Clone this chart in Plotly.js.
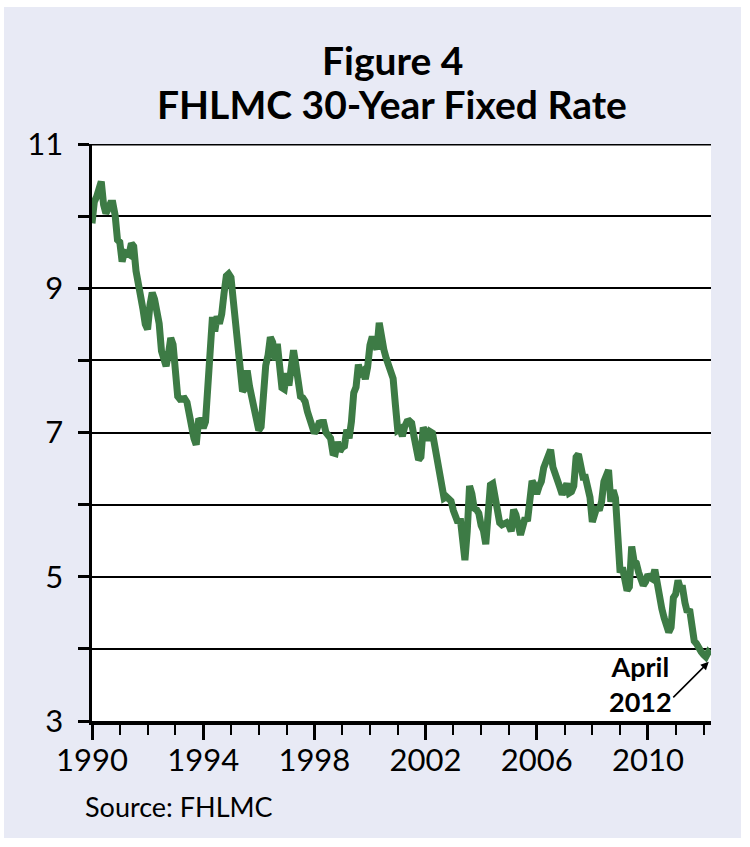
<!DOCTYPE html>
<html>
<head>
<meta charset="utf-8">
<script src="https://cdn.plot.ly/plotly-3.0.1.min.js"></script>
<style>
  html, body { margin: 0; padding: 0; background: #ffffff; }
  #chart { position: absolute; left: 4px; top: 7px; width: 737px; height: 831px; }
</style>
</head>
<body>
<div id="chart"></div>
<script>
// FHLMC 30-year fixed rate, monthly averages (%), Jan 1990 - Apr 2012
const startYear = 1990;
const rates1990s = [
  9.90, 10.20, 10.27, 10.37, 10.48, 10.16, 10.04, 10.10, 10.18, 10.18, 10.01, 9.67,
  9.64, 9.37, 9.50, 9.49, 9.47, 9.62, 9.58, 9.24, 9.01, 8.86, 8.71, 8.50,
  8.43, 8.76, 8.94, 8.85, 8.67, 8.51, 8.13, 7.98, 7.92, 8.09, 8.31, 8.22,
  7.92, 7.50, 7.46, 7.46, 7.47, 7.42, 7.21, 7.11, 6.92, 6.83, 7.16, 7.17,
  7.06, 7.15, 7.68, 8.32, 8.60, 8.40, 8.61, 8.51, 8.64, 8.93, 9.17, 9.20,
  9.15, 8.83, 8.46, 8.32, 7.96, 7.57, 7.61, 7.86, 7.64, 7.48, 7.38, 7.20,
  7.03, 7.08, 7.62, 7.93, 8.07, 8.32, 8.25, 8.00, 8.23, 7.92, 7.62, 7.60,
  7.82, 7.65, 7.90, 8.14, 7.94, 7.69, 7.50, 7.48, 7.43, 7.29, 7.21, 7.10,
  6.99, 7.04, 7.13, 7.14, 7.14, 7.00, 6.95, 6.92, 6.72, 6.71, 6.87, 6.74,
  6.79, 6.81, 7.04, 6.92, 7.15, 7.55, 7.63, 7.94, 7.82, 7.85, 7.74, 7.91
];
const rates2000s = [
  8.21, 8.33, 8.24, 8.15, 8.52, 8.29, 8.15, 8.03, 7.91, 7.80, 7.75, 7.38,
  7.03, 7.05, 6.95, 7.08, 7.15, 7.16, 7.13, 6.95, 6.82, 6.62, 6.66, 7.07,
  7.00, 6.89, 7.01, 6.99, 6.81, 6.65, 6.49, 6.29, 6.09, 6.11, 6.07, 6.05,
  5.92, 5.84, 5.75, 5.81, 5.48, 5.23, 5.63, 6.26, 6.15, 5.95, 5.93, 5.88,
  5.71, 5.64, 5.45, 5.83, 6.27, 6.29, 6.06, 5.87, 5.75, 5.72, 5.73, 5.75,
  5.71, 5.63, 5.93, 5.86, 5.72, 5.58, 5.70, 5.82, 5.77, 6.07, 6.33, 6.27,
  6.15, 6.25, 6.32, 6.51, 6.60, 6.68, 6.76, 6.52, 6.40, 6.36, 6.24, 6.14,
  6.22, 6.29, 6.16, 6.18, 6.26, 6.66, 6.70, 6.57, 6.38, 6.38, 6.21, 6.10,
  5.76, 5.92, 5.97, 5.92, 6.04, 6.32, 6.43, 6.48, 6.04, 6.20, 6.09, 5.29,
  5.06, 5.13, 5.00, 4.81, 4.86, 5.42, 5.22, 5.19, 5.06, 4.95, 4.88, 4.93
];
const rates2010s = [
  5.03, 4.99, 4.97, 5.10, 4.89, 4.74, 4.56, 4.43, 4.35, 4.23, 4.30, 4.71,
  4.76, 4.95, 4.84, 4.84, 4.64, 4.51, 4.55, 4.27, 4.11, 4.07, 3.99, 3.96,
  3.92, 3.89, 3.95, 3.91
];
const yTickVals = [3, 4, 5, 6, 7, 8, 9, 10, 11];
const yTickText = ['3', '', '5', '', '7', '', '9', '', '11'];
const xRange = [1990, 2012.27];
const titleLines = ['Figure 4', 'FHLMC 30-Year Fixed Rate'];
const sourceText = 'Source: FHLMC';
const calloutText = 'April<br>2012';

const rates = rates1990s.concat(rates2000s, rates2010s);
const xs = rates.map((_, i) => startYear + i / 12);

const trace = {
  x: xs, y: rates, type: 'scatter', mode: 'lines',
  line: { color: '#3d7b45', width: 7, shape: 'linear' },
  hoverinfo: 'skip'
};

const tickFont = { family: 'Lato, "Open Sans", sans-serif', size: 31, color: '#000' };
const titleFont = { family: 'Lato, "Open Sans", sans-serif', size: 39, color: '#000' };

const layout = {
  width: 737, height: 831,
  paper_bgcolor: '#e8eaf5',
  plot_bgcolor: '#ffffff',
  margin: { l: 88, r: 30, t: 137, b: 117 },
  showlegend: false,
  xaxis: {
    range: xRange, tick0: 1990, dtick: 4, tickmode: 'linear',
    ticks: 'outside', ticklen: 15, tickwidth: 3, tickcolor: '#000',
    showline: true, linewidth: 3.5, linecolor: '#000',
    showgrid: false, zeroline: false,
    tickfont: tickFont, ticklabelstandoff: -6,
    minor: { dtick: 1, tick0: 1990, ticks: 'outside', ticklen: 10, tickwidth: 2, tickcolor: '#000', showgrid: false }
  },
  yaxis: {
    range: [3, 11], tickmode: 'array', tickvals: yTickVals, ticktext: yTickText,
    ticks: 'outside', ticklen: 11, tickwidth: 3, tickcolor: '#000',
    showline: true, linewidth: 3.5, linecolor: '#000',
    showgrid: true, gridcolor: '#000', gridwidth: 2, zeroline: false,
    tickfont: tickFont, ticklabelstandoff: 8
  },
  shapes: [
    { type: 'line', xref: 'paper', yref: 'y', x0: 0, x1: 1, y0: 11, y1: 11, line: { color: '#000', width: 3 } }
  ],
  annotations: [
    { xref: 'paper', yref: 'paper', x: 0.4847, y: 1.1455, xanchor: 'center', yanchor: 'middle',
      text: '<b>' + titleLines[0] + '</b>', showarrow: false, font: titleFont },
    { xref: 'paper', yref: 'paper', x: 0.4847, y: 1.0700, xanchor: 'center', yanchor: 'middle',
      text: '<b>' + titleLines[1] + '</b>', showarrow: false, font: titleFont },
    { xref: 'paper', yref: 'paper', x: -0.0145, y: -0.149, xanchor: 'left', yanchor: 'middle',
      text: sourceText, showarrow: false,
      font: { family: 'Lato, "Open Sans", sans-serif', size: 27, color: '#000' } },
    { xref: 'x', yref: 'y', x: 2009.75, y: 3.51, xanchor: 'center', yanchor: 'middle',
      text: '<b>' + calloutText + '</b>', showarrow: false, align: 'center',
      font: { family: 'Lato, "Open Sans", sans-serif', size: 27, color: '#000' } },
    { xref: 'x', yref: 'y', x: 2012.19, y: 3.82, text: '', showarrow: true,
      ax: -37, ay: 37, arrowhead: 2, arrowsize: 1, arrowwidth: 1.6, arrowcolor: '#000', standoff: 0 }
  ]
};

Plotly.newPlot('chart', [trace], layout, { displayModeBar: false, staticPlot: true });
</script>
</body>
</html>
